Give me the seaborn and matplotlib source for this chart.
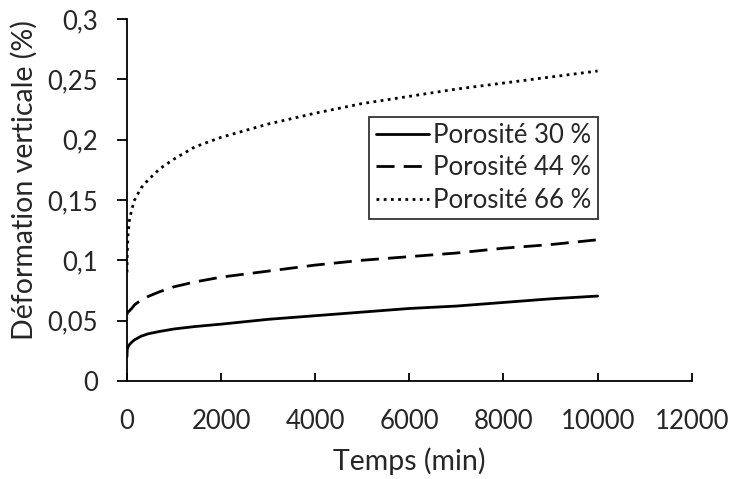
import matplotlib
matplotlib.use("Agg")
import matplotlib.pyplot as plt
from matplotlib.ticker import FuncFormatter, MultipleLocator
import seaborn as sns
import pandas as pd

temps = [0, 5, 20, 50, 100, 160, 300, 450, 700, 1000, 1440, 2000, 3000,
         4000, 5000, 6000, 7000, 8000, 9000, 10000]
porosite_30 = [0.020, 0.026, 0.028, 0.030, 0.032, 0.034, 0.037, 0.039, 0.041,
               0.043, 0.045, 0.047, 0.051, 0.054, 0.057, 0.060, 0.062, 0.065,
               0.068, 0.0703]
porosite_44 = [0.055, 0.056, 0.057, 0.058, 0.060, 0.063, 0.067, 0.070, 0.074,
               0.078, 0.082, 0.086, 0.091, 0.096, 0.100, 0.103, 0.106, 0.110,
               0.113, 0.117]
porosite_66 = [0.090, 0.105, 0.120, 0.133, 0.142, 0.150, 0.160, 0.1667, 0.176,
               0.184, 0.194, 0.202, 0.213, 0.222, 0.230, 0.236, 0.242, 0.247,
               0.252, 0.257]
labels = ["Porosité 30 %", "Porosité 44 %", "Porosité 66 %"]

sns.set_theme(style="white")
plt.rcParams['font.family'] = ['Lato', 'DejaVu Sans']

fig = plt.figure(figsize=(7.32, 4.79), dpi=100)
ax = fig.add_axes([0.1735, 0.205, 0.7715, 0.755])

styles = ['-', (0, (6.5, 3.3)), (0, (1, 1.6))]
for vals, lab, ls in zip([porosite_30, porosite_44, porosite_66], labels, styles):
    df = pd.DataFrame({"t": temps, "v": vals})
    sns.lineplot(data=df, x="t", y="v", ax=ax, color="black", linewidth=2.0,
                 linestyle=ls, label=lab)

ax.set_xlim(0, 12000)
ax.set_ylim(0, 0.3)
ax.xaxis.set_major_locator(MultipleLocator(2000))
ax.yaxis.set_major_locator(MultipleLocator(0.05))
ax.yaxis.set_major_formatter(FuncFormatter(lambda v, p: ('%g' % round(v, 2)).replace('.', ',')))
ax.xaxis.set_major_formatter(FuncFormatter(lambda v, p: '%d' % round(v)))

for s in ['top', 'right']:
    ax.spines[s].set_visible(False)
for s in ['left', 'bottom']:
    ax.spines[s].set_color('black')
    ax.spines[s].set_linewidth(1.3)

ax.tick_params(axis='y', direction='out', length=7, width=1.3, color='black',
               labelsize=18.5, pad=14, left=True)
ax.tick_params(axis='x', direction='in', length=6, width=1.3, color='black',
               labelsize=18.5, pad=20, bottom=True)

ax.set_xlabel("Temps (min)", fontsize=20.5, labelpad=10)
ax.set_ylabel("Déformation verticale (%)", fontsize=20.5)
ax.yaxis.set_label_coords(-0.158, 0.555)

leg = ax.legend(loc='upper right', bbox_to_anchor=(0.834, 0.73), fontsize=18.5,
                frameon=True, fancybox=False, edgecolor='black',
                handlelength=2.1, handletextpad=0.15, borderpad=0.25,
                labelspacing=0.28, borderaxespad=0)
leg.get_frame().set_linewidth(1.3)

fig.savefig("out.png", dpi=100, facecolor='white')
